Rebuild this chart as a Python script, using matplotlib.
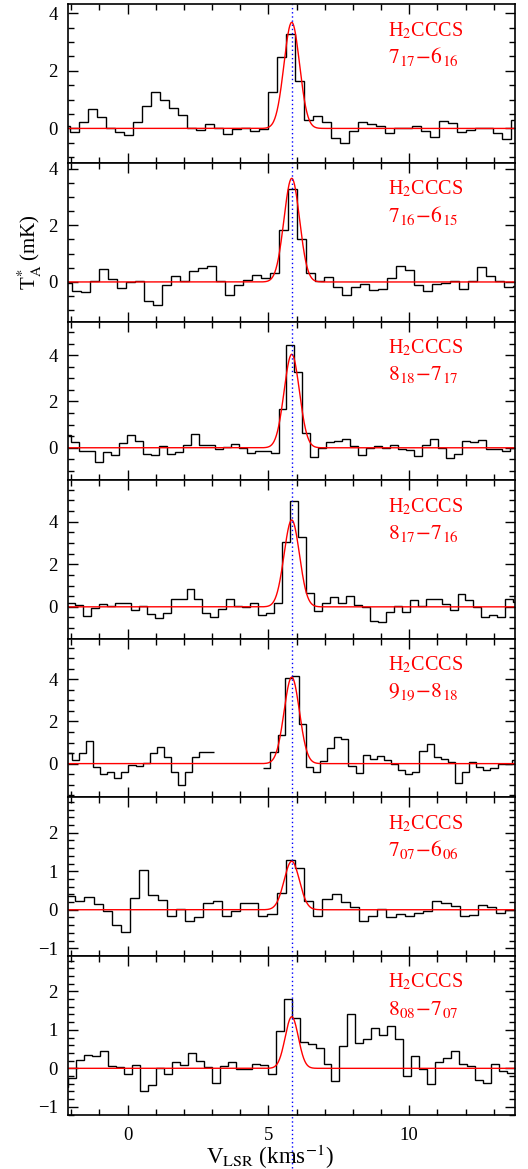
import numpy as np
import matplotlib as mpl
mpl.use("Agg")
import matplotlib.pyplot as plt
from matplotlib.ticker import MultipleLocator

plt.rcParams["font.family"] = ["Liberation Serif", "DejaVu Serif"]
plt.rcParams["mathtext.fontset"] = "stix"

nan = np.nan
vlsr = 5.83          # systemic velocity (km/s)
xlim = (-2.13, 13.75)

molecule = r"H$_2$CCCS"
transitions = [r"$7_{17}\!-\!6_{16}$", r"$7_{16}\!-\!6_{15}$", r"$8_{18}\!-\!7_{17}$",
               r"$8_{17}\!-\!7_{16}$", r"$9_{19}\!-\!8_{18}$", r"$7_{07}\!-\!6_{06}$",
               r"$8_{08}\!-\!7_{07}$"]

# centre of first channel and channel width, km/s
chan_start = [-2.22, -2.15, -2.14, -2.01, -2.11, -2.02, -2.24]
chan_width = [0.32, 0.32, 0.283, 0.283, 0.252, 0.325, 0.283]

# antenna temperature per channel (mK)
t_717 = [0.09, -0.11, 0.21, 0.69, 0.41, 0.03, -0.11, -0.22, 0.23, 0.78,
         1.27, 0.97, 0.71, 0.48, 0.03, -0.06, 0.17, 0.03, -0.19, -0.02,
         0.00, -0.10, -0.02, 1.26, 2.49, 3.29, 1.66, 0.30, 0.43, 0.23,
         -0.34, -0.50, -0.10, 0.21, 0.15, 0.08, -0.17, 0.03, 0.00, 0.09,
         -0.08, -0.30, 0.25, 0.19, -0.14, -0.05, 0.02, 0.03, -0.17, -0.38, 0.30]
t_716 = [-0.05, -0.32, -0.35, 0.05, 0.45, 0.09, -0.20, 0.00, 0.02, -0.67,
         -0.80, -0.12, 0.20, 0.02, 0.38, 0.49, 0.56, 0.02, -0.47, -0.12,
         0.06, 0.24, 0.14, 0.33, 1.82, 3.29, 1.51, 0.33, 0.02, 0.16,
         -0.18, -0.47, -0.18, -0.06, -0.29, -0.24, 0.15, 0.56, 0.44, -0.12,
         -0.32, -0.06, -0.02, 0.05, -0.26, 0.02, 0.52, 0.21, 0.02, -0.18, -0.15]
t_818 = [0.55, 0.23, -0.14, -0.14, -0.62, -0.20, -0.30, 0.22, 0.55, 0.30,
         -0.29, -0.32, 0.07, -0.27, -0.20, 0.14, 0.59, 0.14, 0.14, -0.04,
         0.04, 0.16, -0.03, -0.22, -0.14, -0.14, -0.22, 1.68, 4.46, 3.28,
         0.65, -0.39, 0.00, 0.23, 0.30, 0.37, 0.07, -0.32, -0.03, 0.09,
         0.01, 0.14, -0.07, -0.10, -0.35, 0.14, 0.40, 0.00, -0.46, -0.29,
         0.30, 0.23, 0.33, -0.07, -0.06, -0.13, 0.00]
t_817 = [0.20, 0.08, -0.42, -0.05, 0.13, 0.05, 0.20, 0.16, -0.13, 0.06,
         -0.33, -0.52, -0.28, 0.35, 0.35, 0.83, 0.35, -0.28, -0.49, -0.11,
         0.35, 0.03, -0.03, 0.20, -0.39, -0.31, 0.16, 3.06, 4.99, 3.29,
         0.63, -0.20, 0.16, 0.47, 0.19, 0.52, 0.11, -0.02, -0.66, -0.69,
         -0.24, 0.03, -0.24, 0.31, 0.05, 0.35, 0.36, 0.13, -0.16, 0.60,
         0.31, -0.03, -0.47, -0.39, -0.50, 0.39, 0.24]
t_919 = [0.52, 0.16, 0.52, 1.05, -0.14, -0.51, -0.40, -0.70, -0.40, -0.05,
         -0.13, 0.02, 0.52, 0.79, 0.33, -0.38, -1.02, -0.38, 0.32, 0.57,
         0.57, nan, nan, nan, nan, nan, nan, nan, -0.19, 0.56,
         1.35, 4.05, 4.14, 1.87, -0.14, -0.40, 0.13, 0.73, 1.24, 1.19,
         -0.11, -0.43, 0.41, 0.21, 0.37, 0.17, -0.03, -0.32, -0.48, -0.38,
         0.60, 0.92, 0.32, 0.21, 0.10, -0.94, -0.38, 0.10, -0.16, -0.32,
         -0.19, -0.03, -0.03, 0.17]
t_707 = [0.37, 0.22, 0.34, 0.16, -0.04, -0.39, -0.57, 0.30, 1.03, 0.38,
         0.26, -0.17, 0.02, -0.30, -0.19, 0.17, 0.22, -0.15, -0.04, 0.18,
         0.17, -0.17, -0.10, 0.43, 1.29, 1.09, 0.22, -0.15, 0.29, 0.41,
         0.19, 0.06, -0.28, -0.15, 0.03, -0.19, -0.11, -0.17, -0.09, -0.03,
         0.22, 0.17, 0.09, -0.16, -0.14, 0.12, 0.06, -0.09, 0.00, 0.23]
t_808 = [-0.49, -0.26, 0.22, 0.34, 0.31, 0.46, 0.07, 0.04, -0.15, 0.09,
         -0.58, -0.43, 0.01, -0.15, 0.17, 0.09, 0.41, 0.19, 0.03, -0.38,
         0.07, 0.17, -0.02, -0.03, 0.11, 0.09, -0.16, 0.97, 1.79, 1.32,
         0.69, 0.62, 0.54, 0.11, -0.34, 0.59, 1.41, 0.66, 0.76, 1.06,
         0.86, 1.09, 0.76, -0.19, 0.33, -0.02, -0.41, 0.16, 0.26, 0.45,
         0.11, 0.07, -0.30, -0.38, 0.11, -0.06, -0.12, -0.02]
spectra = [t_717, t_716, t_818, t_817, t_919, t_707, t_808]

# gaussian fits: peak (mK) and FWHM (km/s)
fit_peak = [3.68, 3.66, 4.04, 4.08, 4.10, 1.26, 1.34]
fit_fwhm = [0.65, 0.65, 0.64, 0.64, 0.64, 0.64, 0.55]

ylims = [(-1.2, 4.3), (-1.4, 4.2), (-1.4, 5.45), (-1.5, 5.95),
         (-1.6, 5.92), (-1.2, 2.92), (-1.2, 2.92)]
ymajor = [2, 2, 2, 2, 2, 1, 1]
yminor = [0.5, 0.5, 0.5, 0.5, 0.5, 0.2, 0.2]

fig = plt.figure(figsize=(5.28, 11.69), dpi=100)
gs = fig.add_gridspec(7, 1, left=0.128, right=0.975, top=0.9962,
                      bottom=0.0466, hspace=0)
vfit = np.linspace(xlim[0] - 0.5, xlim[1] + 0.5, 1200)

for i, spec in enumerate(spectra):
    ax = fig.add_subplot(gs[i])
    vals = np.array(spec, dtype=float)
    edges = chan_start[i] - chan_width[i] / 2 + chan_width[i] * np.arange(len(vals) + 1)
    ax.stairs(vals, edges, baseline=None, color="black", lw=1.0)
    gauss = fit_peak[i] * np.exp(-4 * np.log(2) * (vfit - vlsr) ** 2 / fit_fwhm[i] ** 2)
    ax.plot(vfit, gauss, color="red", lw=1.0)
    ax.axvline(vlsr, color="blue", ls=(0, (1, 2)), lw=1.0)

    ax.text(0.716, 0.80, molecule, color="red", fontsize=14.5, transform=ax.transAxes)
    ax.text(0.716, 0.63, transitions[i], color="red", fontsize=15.5, transform=ax.transAxes)

    ax.set_xlim(*xlim)
    ax.set_ylim(*ylims[i])
    ax.xaxis.set_major_locator(MultipleLocator(5))
    ax.xaxis.set_minor_locator(MultipleLocator(1))
    ax.yaxis.set_major_locator(MultipleLocator(ymajor[i]))
    ax.yaxis.set_minor_locator(MultipleLocator(yminor[i]))
    ax.tick_params(which="both", direction="in", top=True, right=True,
                   width=1.0, labelsize=13.5)
    ax.tick_params(which="major", length=7.5, pad=7)
    ax.tick_params(which="minor", length=4)
    ax.tick_params(axis="x", pad=9)
    for s in ax.spines.values():
        s.set_linewidth(1.2)
    if i < len(spectra) - 1:
        ax.tick_params(labelbottom=False)
    else:
        # velocity marker carries on below the last panel
        ax.plot([vlsr, vlsr], [-0.34, 0.0], color="blue", ls=(0, (1, 2)), lw=1.0,
                transform=ax.get_xaxis_transform(), clip_on=False)

fig.text(270 / 528, 1 - 1164 / 1169, r"V$_{\rm LSR}$ (kms$^{-1}$)",
         ha="center", va="baseline", fontsize=16.5)
fig.text(30 / 528, 1 - 252 / 1169, r"T$_{\rm A}^{*}$ (mK)", rotation=90,
         ha="center", va="center", fontsize=15)

fig.savefig("out.png", dpi=100)
